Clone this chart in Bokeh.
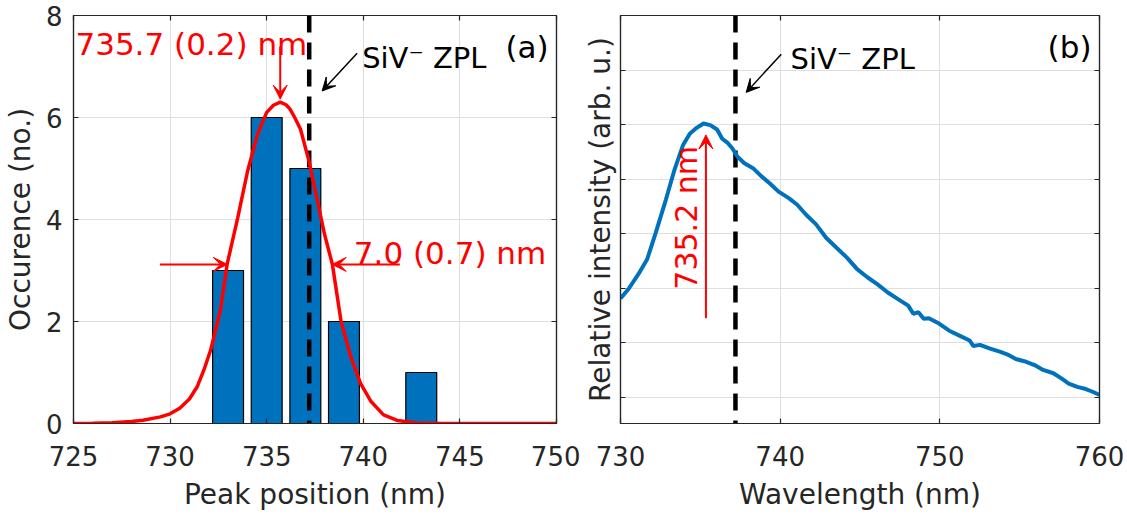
from bokeh.plotting import figure
from bokeh.layouts import row
from bokeh.models import Range1d, LinearAxis, FixedTicker, Arrow, VeeHead, Label
from bokeh.embed import file_html
from bokeh.resources import INLINE

# ---------------- data ----------------
bin_centers = [733, 735, 737, 739, 741, 743]
bin_counts = [3, 6, 5, 2, 0, 1]
bar_width = 1.6

fit_x = [725, 726, 727, 728, 728.6, 729.5, 730.0, 730.5, 731.0, 731.4, 731.75, 732.1,
         732.35, 732.6, 732.95, 733.5, 734.0, 734.5, 734.75, 735.0, 735.35, 735.7, 736.0,
         736.2, 736.45, 736.75, 737.2, 737.6, 738.0, 738.4, 738.85, 739.35, 739.85, 740.4,
         741.05, 741.75, 742.8, 744, 746, 748, 750]
fit_y = [0.0, 0.005, 0.015, 0.04, 0.065, 0.13, 0.19, 0.30, 0.48, 0.72, 1.05, 1.44,
         1.83, 2.21, 3.12, 4.03, 4.93, 5.64, 5.88, 6.10, 6.24, 6.30, 6.25,
         6.17, 6.00, 5.77, 5.13, 4.41, 3.70, 3.12, 2.00, 1.31, 0.79, 0.43,
         0.17, 0.06, 0.01, 0.0, 0.0, 0.0, 0.0]

spec_x = [730.0, 730.49, 731.13, 731.67, 732.2, 732.84, 733.38, 733.91, 734.34, 734.77,
          735.2, 735.62, 736.05, 736.37, 736.69, 737.01, 737.33, 737.76, 738.3, 738.83,
          739.36, 739.9, 740.54, 741.07, 741.61, 742.25, 742.89, 743.53, 744.18, 744.82,
          745.46, 746.1, 746.74, 747.38, 748.02, 748.34, 748.66, 748.99, 749.31, 749.95,
          750.59, 751.23, 751.87, 752.09, 752.51, 753.15, 753.8, 754.33, 754.76, 755.29,
          755.93, 756.47, 757.11, 757.64, 758.07, 758.61, 759.14, 759.57, 760.0]
spec_y = [0.281, 0.298, 0.326, 0.353, 0.401, 0.462, 0.517, 0.562, 0.583, 0.594,
          0.602, 0.599, 0.591, 0.574, 0.567, 0.556, 0.541, 0.529, 0.520, 0.505,
          0.492, 0.477, 0.465, 0.453, 0.435, 0.417, 0.392, 0.374, 0.356, 0.335,
          0.320, 0.307, 0.292, 0.280, 0.268, 0.253, 0.256, 0.244, 0.245, 0.235,
          0.222, 0.213, 0.204, 0.194, 0.196, 0.189, 0.183, 0.177, 0.170, 0.166,
          0.159, 0.150, 0.144, 0.134, 0.125, 0.119, 0.115, 0.110, 0.104]

zpl_nm = 737.2
fit_peak_nm = 735.7
half_max = 3.12
fwhm_left_nm = 732.96
fwhm_right_nm = 738.39
spec_peak_nm = 735.35

peak_text = "735.7 (0.2) nm"
fwhm_text = "7.0 (0.7) nm"
spec_peak_text = "735.2 nm"
zpl_text = "SiV\u207b ZPL"

a_xticks = [725, 730, 735, 740, 745, 750]
a_yticks = [0, 2, 4, 6, 8]
b_xticks = [730, 740, 750, 760]
b_yticks = [0.1, 0.2, 0.3, 0.4, 0.5, 0.6, 0.7, 0.8]

# ---------------- style ----------------
FONT = "DejaVu Sans"
AX = "#262626"
GRID = "#dfdfdf"
BLUE = "#0072BD"
RED = "#FF0000"


def style_axis(ax, ticks, labels=True, standoff=11):
    ax.ticker = FixedTicker(ticks=ticks)
    ax.major_tick_in = 5
    ax.major_tick_out = 0
    ax.minor_tick_in = 0
    ax.minor_tick_out = 0
    ax.axis_line_color = AX
    ax.axis_line_width = 1.2
    ax.major_tick_line_color = AX
    ax.major_tick_line_width = 1.2
    ax.major_label_text_font = FONT
    ax.axis_label_text_font = FONT
    ax.axis_label_text_font_style = "normal"
    ax.axis_label_text_color = AX
    ax.axis_label_text_font_size = "28px"
    if labels:
        ax.major_label_text_color = AX
        ax.major_label_text_font_size = "26px"
        ax.major_label_standoff = standoff
    else:
        ax.major_label_text_color = None
        ax.major_label_text_font_size = "0px"
        ax.major_label_standoff = 0


def make_fig(width, xr, yr, xt, yt, mbl, mbr, mbt, mbb, ylabels):
    p = figure(width=width, height=515, x_range=Range1d(*xr), y_range=Range1d(*yr),
               output_backend="svg", toolbar_location=None,
               min_border_left=mbl, min_border_right=mbr,
               min_border_top=mbt, min_border_bottom=mbb)
    p.background_fill_color = "white"
    p.border_fill_color = "white"
    p.outline_line_color = AX
    p.outline_line_width = 1.2
    bottom = p.below[0]
    left = p.left[0]
    style_axis(bottom, xt, True, 22)
    style_axis(left, yt, ylabels, 11)
    bottom.axis_label_standoff = 9
    left.axis_label_standoff = 6
    top = LinearAxis()
    style_axis(top, xt, False)
    p.add_layout(top, "above")
    right = LinearAxis()
    style_axis(right, yt, False)
    p.add_layout(right, "right")
    p.xgrid[0].ticker = FixedTicker(ticks=xt)
    p.ygrid[0].ticker = FixedTicker(ticks=yt)
    for g in (p.xgrid[0], p.ygrid[0]):
        g.grid_line_color = GRID
        g.grid_line_width = 1
    return p, bottom, left


def txt(p, x, y, s, color="black", size="31px", angle=0.0, align="left", baseline="alphabetic"):
    p.add_layout(Label(x=x, y=y, text=s, text_font=FONT, text_font_size=size,
                       text_color=color, text_align=align,
                       text_baseline=baseline, angle=angle))


def arrow(p, x0, y0, x1, y1, color, lw, size):
    p.add_layout(Arrow(end=VeeHead(size=size, fill_color=color, line_color=color),
                       x_start=x0, y_start=y0, x_end=x1, y_end=y1,
                       line_color=color, line_width=lw))


# ---------------- panel (a) ----------------
p1, p1_bottom, p1_left = make_fig(580, (725, 750), (0, 8), a_xticks, a_yticks,
                                  73, 24, 15, 91, True)
p1_bottom.axis_label = "Peak position (nm)"
p1_left.axis_label = "Occurence (no.)"

p1.vbar(x=bin_centers, top=bin_counts, bottom=0, width=bar_width,
        fill_color=BLUE, line_color="black", line_width=1.2)
p1.line([zpl_nm, zpl_nm], [8, 0], line_color="black", line_width=4.5, line_dash="17 10")
p1.line(fit_x, fit_y, line_color=RED, line_width=3.5)

txt(p1, 725.10, 7.443, peak_text, RED)
arrow(p1, fit_peak_nm, 7.39, fit_peak_nm, 6.36, RED, 2, 14)
txt(p1, 739.94, 7.165, zpl_text, size="29px")
arrow(p1, 739.68, 7.26, 737.87, 6.52, "black", 1.5, 13)
txt(p1, 747.36, 7.39, "(a)")
txt(p1, 739.51, 3.346, fwhm_text, RED)
arrow(p1, 729.47, half_max, fwhm_left_nm, half_max, RED, 2, 14)
arrow(p1, 741.89, half_max, fwhm_right_nm, half_max, RED, 2, 14)

# ---------------- panel (b) ----------------
p2, p2_bottom, p2_left = make_fig(547, (730, 760), (0.0518, 0.8), b_xticks, b_yticks,
                                  37, 28, 11, 92, False)
p2_bottom.axis_label = "Wavelength (nm)"
p2_left.axis_label = "Relative intensity (arb. u.)"
p2_left.axis_label_standoff = 4

p2.line([zpl_nm, zpl_nm], [0.8, 0.0518], line_color="black", line_width=4.5, line_dash="17 10")
p2.line(spec_x, spec_y, line_color=BLUE, line_width=4)

txt(p2, 756.75, 0.7424, "(b)")
txt(p2, 740.65, 0.72, zpl_text, size="29px")
arrow(p2, 740.07, 0.729, 737.87, 0.659, "black", 1.5, 13)
arrow(p2, spec_peak_nm, 0.245, spec_peak_nm, 0.581, RED, 2, 14)
txt(p2, 734.12, 0.429, spec_peak_text, RED, size="30px", angle=1.5707963,
    align="center", baseline="middle")

layout = row(p1, p2, spacing=0)
open("out.html", "w").write(file_html(layout, INLINE))
